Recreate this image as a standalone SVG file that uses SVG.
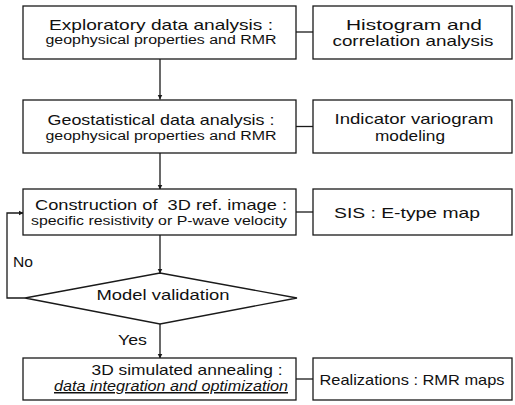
<svg xmlns="http://www.w3.org/2000/svg" width="515" height="405" viewBox="0 0 515 405">
  <style>
    .box { fill: #fff; stroke: #1a1a1a; stroke-width: 1.3; }
    .wire { fill: none; stroke: #1a1a1a; stroke-width: 1.3; }
    text { font-family: "Liberation Sans", Arial, sans-serif; fill: #111; white-space: pre; }
    .t1 { font-size: 15px; text-anchor: middle; }
    .t2 { font-size: 12px; text-anchor: middle; }
    .lbl { font-size: 15px; }
    .em { font-style: italic; text-decoration: underline; }
  </style>
  <defs>
    <marker id="arrow" viewBox="0 0 8 8" refX="8" refY="4" markerWidth="5" markerHeight="6" orient="auto" markerUnits="userSpaceOnUse">
      <path d="M0,0 L8,4 L0,8 Z" fill="#1a1a1a"/>
    </marker>
  </defs>

  <rect width="515" height="405" fill="#fff"/>

  <!-- connectors -->
  <g id="connectors">
    <line class="wire" x1="160" y1="59" x2="160" y2="99.5" marker-end="url(#arrow)"/>
    <line class="wire" x1="160" y1="153" x2="160" y2="189.5" marker-end="url(#arrow)"/>
    <line class="wire" x1="160" y1="235" x2="160" y2="273.5" marker-end="url(#arrow)"/>
    <line class="wire" x1="160" y1="324" x2="160" y2="358.5" marker-end="url(#arrow)"/>
    <polyline class="wire" points="25,298 7,298 7,213 23.5,213" marker-end="url(#arrow)"/>
    <line class="wire" x1="296" y1="32" x2="313" y2="32"/>
    <line class="wire" x1="296" y1="126.5" x2="313" y2="126.5"/>
    <line class="wire" x1="296" y1="212" x2="313" y2="212"/>
    <line class="wire" x1="296" y1="379" x2="313" y2="379"/>
  </g>

  <!-- main flow -->
  <g id="exploratory">
    <rect class="box" x="23" y="6" width="273" height="53"/>
    <text class="t1" x="161" y="30" textLength="224" lengthAdjust="spacingAndGlyphs">Exploratory data analysis :</text>
    <text class="t2" x="161" y="44" textLength="231" lengthAdjust="spacingAndGlyphs">geophysical properties and RMR</text>
  </g>
  <g id="histogram">
    <rect class="box" x="313" y="6" width="199" height="53"/>
    <text class="t1" x="414" y="30" textLength="136" lengthAdjust="spacingAndGlyphs">Histogram and</text>
    <text class="t1" x="413" y="46" textLength="161" lengthAdjust="spacingAndGlyphs">correlation analysis</text>
  </g>

  <g id="geostatistical">
    <rect class="box" x="23" y="100" width="273" height="53"/>
    <text class="t1" x="161" y="125" textLength="227" lengthAdjust="spacingAndGlyphs">Geostatistical data analysis :</text>
    <text class="t2" x="161" y="140" textLength="231" lengthAdjust="spacingAndGlyphs">geophysical properties and RMR</text>
  </g>
  <g id="variogram">
    <rect class="box" x="313" y="100" width="199" height="53"/>
    <text class="t1" x="414" y="124" textLength="159" lengthAdjust="spacingAndGlyphs">Indicator variogram</text>
    <text class="t1" x="410" y="141" textLength="70" lengthAdjust="spacingAndGlyphs">modeling</text>
  </g>

  <g id="reference-image">
    <rect class="box" x="23" y="189" width="273" height="46"/>
    <text class="t1" x="161" y="210" textLength="252" lengthAdjust="spacingAndGlyphs">Construction of  3D ref. image :</text>
    <text class="t2" x="159" y="225" textLength="256" lengthAdjust="spacingAndGlyphs">specific resistivity or P-wave velocity</text>
  </g>
  <g id="sis">
    <rect class="box" x="313" y="189" width="199" height="46"/>
    <text class="t1" x="407" y="218" textLength="146" lengthAdjust="spacingAndGlyphs">SIS : E-type map</text>
  </g>

  <g id="validation">
    <polygon class="box" points="160,273 297,298 160,324 25,298"/>
    <text class="t1" x="163" y="300" textLength="133" lengthAdjust="spacingAndGlyphs">Model validation</text>
  </g>
  <text class="lbl" x="13" y="267" textLength="20" lengthAdjust="spacingAndGlyphs">No</text>
  <text class="lbl" x="118" y="345" textLength="29" lengthAdjust="spacingAndGlyphs">Yes</text>

  <g id="annealing">
    <rect class="box" x="23" y="358" width="273" height="42"/>
    <text class="t1" x="187" y="375" textLength="191" lengthAdjust="spacingAndGlyphs">3D simulated annealing :</text>
    <text class="t1 em" x="171" y="391" textLength="234" lengthAdjust="spacingAndGlyphs">data integration and optimization</text>
  </g>
  <g id="realizations">
    <rect class="box" x="313" y="358" width="199" height="42"/>
    <text class="t1" x="412" y="385" textLength="185" lengthAdjust="spacingAndGlyphs">Realizations : RMR maps</text>
  </g>
</svg>
